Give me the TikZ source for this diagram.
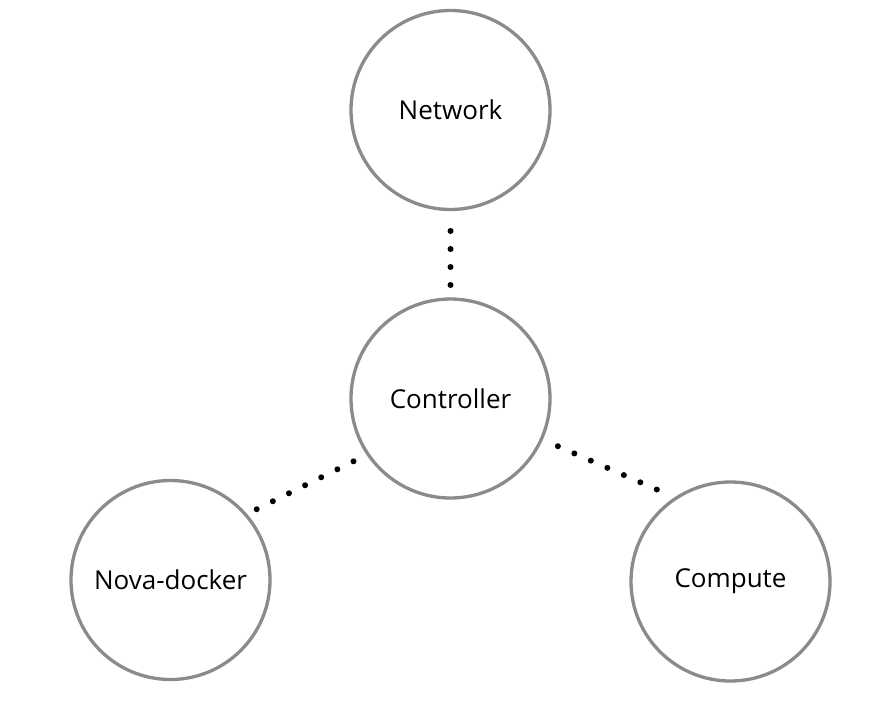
\documentclass[tikz,border=0pt]{standalone}
\usepackage{fontspec}
\setmainfont{Open Sans}
\definecolor{ringgray}{RGB}{138, 139, 143}
\usepackage{tikz}
\usetikzlibrary{positioning}
\tikzset{
  hostring/.style={circle, draw=ringgray, line width=3.3pt, minimum size=199pt, inner sep=0pt, outer sep=0pt, font=\fontsize{26}{31}\selectfont},
  dotlink/.style={line width=6pt, line cap=round, dash pattern=on 0pt off 18pt}
}

\begin{document}
\begin{tikzpicture}[x=1pt, y=-1pt]
  \useasboundingbox (0, 0) rectangle (882, 706);

  % The four hosts
  \node[hostring] (net) at (450.5, 110) {Network};
  \node[hostring] (ctrl) at (450.5, 398.5) {Controller};
  \node[hostring] (nova) at (170.5, 580) {Nova-docker};
  \node[hostring] (comp) at (730.5, 581.5) {Compute};

  % Dotted links to the controller
  \draw[dotlink, shorten <=21.5pt, shorten >=13.5pt] (net.south) -- (ctrl.north);
  \draw[dotlink, shorten <=16.2pt, shorten >=11.5pt] (ctrl.214.6) -- (nova.41.4);
  \draw[dotlink, shorten <=18pt, shorten >=21pt] (ctrl.-24) -- (comp.123);
\end{tikzpicture}
\end{document}
